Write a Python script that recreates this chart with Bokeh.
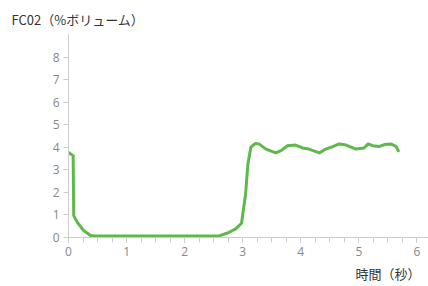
from bokeh.plotting import figure
from bokeh.models import FixedTicker, Range1d, Title
from bokeh.embed import file_html
from bokeh.resources import INLINE

title_text = "FC02（%ボリューム）"
xlabel_text = "時間（秒）"
x_ticks = [0, 1, 2, 3, 4, 5, 6]
y_ticks = [0, 1, 2, 3, 4, 5, 6, 7, 8]

t = [0.00, 0.08, 0.09, 0.15, 0.26, 0.38, 0.45, 1.0, 2.0, 2.59, 2.74, 2.88, 2.98, 3.05, 3.09,
     3.14, 3.22, 3.28, 3.40, 3.57, 3.66, 3.77, 3.91, 4.03, 4.14, 4.32, 4.43, 4.55, 4.66,
     4.78, 4.95, 5.09, 5.16, 5.24, 5.35, 5.44, 5.55, 5.64, 5.68]
v = [3.77, 3.63, 0.97, 0.68, 0.31, 0.09, 0.07, 0.07, 0.07, 0.07, 0.20, 0.38, 0.63, 1.93, 3.26,
     4.00, 4.17, 4.15, 3.92, 3.75, 3.85, 4.07, 4.10, 3.97, 3.92, 3.75, 3.92, 4.03, 4.15,
     4.10, 3.92, 3.97, 4.15, 4.07, 4.03, 4.12, 4.15, 4.04, 3.85]

p = figure(width=428, height=286, output_backend="svg", toolbar_location=None,
           x_range=Range1d(0, 6.2), y_range=Range1d(0, 9),
           min_border_left=68, min_border_right=0, min_border_top=34, min_border_bottom=49)
p.outline_line_color = None
p.xgrid.visible = False
p.ygrid.visible = False

p.title.text = title_text
p.title.align = "left"
p.title.offset = -57
p.title.text_font = "Noto Sans CJK JP"
p.title.text_font_size = "13px"
p.title.text_font_style = "normal"
p.title.text_color = "#333333"
p.title.standoff = 12

p.line(t, v, line_color="#5cb94a", line_width=3, line_join="round", line_cap="round")

axis_col = "#cccccc"
lab_col = "#888888"
for ax in (p.xaxis[0], p.yaxis[0]):
    ax.axis_line_color = axis_col
    ax.major_tick_line_color = axis_col
    ax.minor_tick_line_color = axis_col
    ax.major_tick_out = 5
    ax.major_tick_in = 0
    ax.minor_tick_out = 5
    ax.minor_tick_in = 0
    ax.major_label_text_color = lab_col
    ax.major_label_text_font = "Open Sans"
    ax.major_label_text_font_size = "12px"

p.xaxis[0].ticker = FixedTicker(ticks=x_ticks, minor_ticks=[i * 0.25 for i in range(0, 25)])
p.yaxis[0].ticker = FixedTicker(ticks=y_ticks)
p.yaxis[0].minor_tick_line_color = None
p.xaxis[0].major_label_standoff = 4
p.yaxis[0].major_label_standoff = 4

xt = Title(text=xlabel_text, align="right", offset=8, text_font="Noto Sans CJK JP",
           text_font_size="13px", text_font_style="normal", text_color="#333333", standoff=7)
p.add_layout(xt, "below")

open("out.html", "w").write(file_html(p, INLINE))
